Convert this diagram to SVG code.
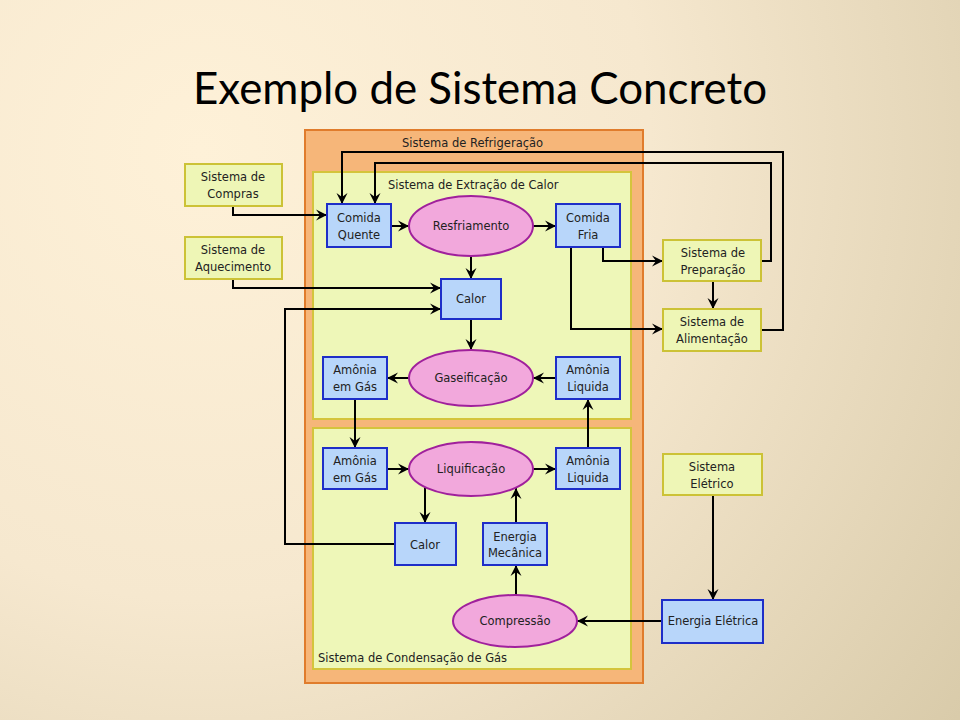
<svg xmlns="http://www.w3.org/2000/svg" width="960" height="720" viewBox="0 0 960 720">
<defs>
<radialGradient id="bg" cx="200" cy="150" r="1000" gradientUnits="userSpaceOnUse">
<stop offset="0" stop-color="#fef1d8"/>
<stop offset="0.45" stop-color="#f6e8cf"/>
<stop offset="1" stop-color="#d6c8a6"/>
</radialGradient>
<marker id="ah" markerWidth="12" markerHeight="12" refX="11" refY="6" orient="auto" markerUnits="userSpaceOnUse">
<path d="M0,0.5 L11,6 L0,11.5 L4,6 z" fill="#000"/>
</marker>
<style>
.t{font-family:"DejaVu Sans","Liberation Sans",sans-serif;font-size:11.5px;fill:#222;text-anchor:middle}
.lbl{font-family:"DejaVu Sans","Liberation Sans",sans-serif;font-size:11.5px;fill:#222}
.ext{fill:#eef6b6;stroke:#ccc236;stroke-width:2}
.blue{fill:#b8d6fa;stroke:#1e2ec8;stroke-width:2}
.pink{fill:#f2a8dc;stroke:#a0209c;stroke-width:2}
.c{fill:none;stroke:#000;stroke-width:2;marker-end:url(#ah)}
.c2{fill:none;stroke:#000;stroke-width:2}
</style>
</defs>
<rect width="960" height="720" fill="url(#bg)"/>
<text x="193" y="104" font-family="Lato,'Open Sans',sans-serif" font-size="44" fill="#000" textLength="574" lengthAdjust="spacingAndGlyphs">Exemplo de Sistema Concreto</text>

<g id="sistema-refrigeracao">
<rect x="305" y="130" width="338" height="553" fill="#f6b679" stroke="#e07c2c" stroke-width="2"/>
<text class="lbl" x="402" y="147">Sistema de Refrigeração</text>
</g>
<g id="sistema-extracao">
<rect x="313" y="172" width="318" height="247" fill="#eef7b8" stroke="#d4c43c" stroke-width="2"/>
<text class="lbl" x="388" y="189">Sistema de Extração de Calor</text>
</g>
<g id="sistema-condensacao">
<rect x="313" y="428" width="318" height="241" fill="#eef7b8" stroke="#d4c43c" stroke-width="2"/>
<text class="lbl" x="318" y="662">Sistema de Condensação de Gás</text>
</g>

<g id="connectors">
<polyline class="c" points="761,330 783,330 783,152 342,152 342,204"/>
<polyline class="c" points="761,261 771,261 771,163 375,163 375,204"/>
<polyline class="c" points="233,206 233,215 327,215"/>
<polyline class="c" points="233,279 233,288 441,288"/>
<polyline class="c" points="395,544 285,544 285,309 441,309"/>
<line class="c" x1="391" y1="226" x2="409" y2="226"/>
<line class="c" x1="533" y1="226" x2="556" y2="226"/>
<line class="c" x1="471" y1="256" x2="471" y2="279"/>
<polyline class="c" points="603,247 603,261 663,261"/>
<polyline class="c" points="571,247 571,329 663,329"/>
<line class="c" x1="713" y1="281" x2="713" y2="309"/>
<line class="c" x1="471" y1="319" x2="471" y2="350"/>
<line class="c" x1="409" y1="378" x2="387" y2="378"/>
<line class="c" x1="556" y1="378" x2="533" y2="378"/>
<line class="c" x1="355" y1="399" x2="355" y2="448"/>
<line class="c" x1="387" y1="469" x2="409" y2="469"/>
<line class="c" x1="533" y1="469" x2="556" y2="469"/>
<line class="c" x1="588" y1="448" x2="588" y2="399"/>
<line class="c" x1="425" y1="487" x2="425" y2="523"/>
<line class="c" x1="516" y1="523" x2="516" y2="488"/>
<line class="c" x1="516" y1="595" x2="516" y2="565"/>
<line class="c" x1="662" y1="621" x2="577" y2="621"/>
<line class="c" x1="713" y1="495" x2="713" y2="600"/>
</g>

<g id="sistema-compras">
<rect class="ext" x="185" y="164" width="97" height="42"/>
<text class="t" x="233" y="181">Sistema de</text>
<text class="t" x="233" y="198">Compras</text>
</g>
<g id="sistema-aquecimento">
<rect class="ext" x="185" y="237" width="97" height="42"/>
<text class="t" x="233" y="254">Sistema de</text>
<text class="t" x="233" y="271">Aquecimento</text>
</g>
<g id="comida-quente">
<rect class="blue" x="327" y="204" width="64" height="43"/>
<text class="t" x="359" y="222">Comida</text>
<text class="t" x="359" y="239">Quente</text>
</g>
<g id="resfriamento">
<ellipse class="pink" cx="471" cy="226" rx="62" ry="30"/>
<text class="t" x="471" y="230">Resfriamento</text>
</g>
<g id="comida-fria">
<rect class="blue" x="556" y="204" width="64" height="43"/>
<text class="t" x="588" y="222">Comida</text>
<text class="t" x="588" y="239">Fria</text>
</g>
<g id="calor-1">
<rect class="blue" x="441" y="279" width="60" height="40"/>
<text class="t" x="471" y="303">Calor</text>
</g>
<g id="sistema-preparacao">
<rect class="ext" x="663" y="240" width="98" height="41"/>
<text class="t" x="713" y="257">Sistema de</text>
<text class="t" x="713" y="274">Preparação</text>
</g>
<g id="sistema-alimentacao">
<rect class="ext" x="663" y="309" width="98" height="42"/>
<text class="t" x="712" y="326">Sistema de</text>
<text class="t" x="712" y="343">Alimentação</text>
</g>
<g id="amonia-gas-1">
<rect class="blue" x="323" y="357" width="64" height="42"/>
<text class="t" x="355" y="374">Amônia</text>
<text class="t" x="355" y="391">em Gás</text>
</g>
<g id="gaseificacao">
<ellipse class="pink" cx="471" cy="378" rx="62" ry="28"/>
<text class="t" x="471" y="382">Gaseificação</text>
</g>
<g id="amonia-liquida-1">
<rect class="blue" x="556" y="357" width="64" height="42"/>
<text class="t" x="588" y="374">Amônia</text>
<text class="t" x="588" y="391">Liquida</text>
</g>
<g id="amonia-gas-2">
<rect class="blue" x="323" y="448" width="64" height="41"/>
<text class="t" x="355" y="465">Amônia</text>
<text class="t" x="355" y="482">em Gás</text>
</g>
<g id="liquificacao">
<ellipse class="pink" cx="471" cy="469" rx="62" ry="27"/>
<text class="t" x="471" y="473">Liquificação</text>
</g>
<g id="amonia-liquida-2">
<rect class="blue" x="556" y="448" width="64" height="41"/>
<text class="t" x="588" y="465">Amônia</text>
<text class="t" x="588" y="482">Liquida</text>
</g>
<g id="calor-2">
<rect class="blue" x="395" y="523" width="61" height="42"/>
<text class="t" x="425" y="549">Calor</text>
</g>
<g id="energia-mecanica">
<rect class="blue" x="483" y="523" width="64" height="42"/>
<text class="t" x="515" y="541">Energia</text>
<text class="t" x="515" y="557">Mecânica</text>
</g>
<g id="compressao">
<ellipse class="pink" cx="515" cy="621" rx="62" ry="26"/>
<text class="t" x="515" y="625">Compressão</text>
</g>
<g id="sistema-eletrico">
<rect class="ext" x="663" y="454" width="99" height="41"/>
<text class="t" x="712" y="471">Sistema</text>
<text class="t" x="712" y="488">Elétrico</text>
</g>
<g id="energia-eletrica">
<rect class="blue" x="662" y="600" width="101" height="43"/>
<text class="t" x="713" y="625">Energia Elétrica</text>
</g>
</svg>
